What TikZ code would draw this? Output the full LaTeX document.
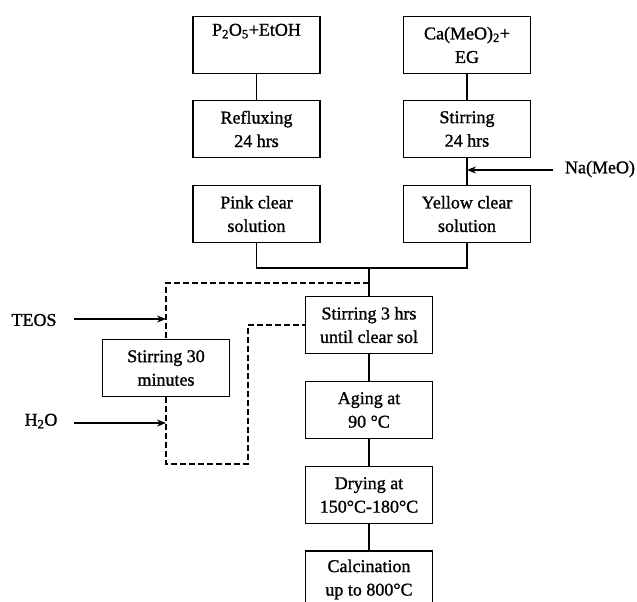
\documentclass[tikz,border=0pt]{standalone}
\usepackage{fontspec}
\setmainfont{Liberation Serif}[RawFeature={embolden=1.2}]
\usetikzlibrary{arrows.meta}
\begin{document}
\begin{tikzpicture}[x=1pt,y=-1pt,
 box/.style={draw, line width=1.8pt, minimum width=127pt, minimum height=57pt, align=center, font=\fontsize{18}{23.5}\selectfont, inner sep=0pt},
 conn/.style={line width=1.6pt},
 dsh/.style={line width=1.6pt, dash pattern=on 6pt off 3pt},
 arr/.style={line width=1.6pt, -{Stealth[length=9pt,width=7pt]}},
 lbl/.style={font=\fontsize{18}{22}\selectfont, inner sep=0pt}]
\useasboundingbox (0,0) rectangle (637,602);
\clip (0,0) rectangle (637,602);
% left column
\node[box] (p) at (256.5,45) {P\textsubscript{2}O\textsubscript{5}+EtOH\\\strut};
\node[box] (ref) at (256.5,129) {Refluxing\\24 hrs};
\node[box] (pink) at (256.5,214) {Pink clear\\solution};
% right column
\node[box] (ca) at (467,45) {Ca(MeO)\textsubscript{2}+\\EG};
\node[box] (st24) at (467,129) {Stirring\\24 hrs};
\node[box] (yel) at (467,214) {Yellow clear\\solution};
% main column
\node[box] (s3) at (369,325) {Stirring 3 hrs\\until clear sol};
\node[box] (age) at (369,410) {Aging at\\90 °C};
\node[box] (dry) at (369,495) {Drying at\\150°C-180°C};
\node[box] (calc) at (369,579.5) {Calcination\\up to 800°C};
% side box
\node[box] (s30) at (166,368) {Stirring 30\\minutes};
% labels
\node[lbl] (na) at (600,169) {Na(MeO)};
\node[lbl] (teos) at (34,320) {TEOS};
\node[lbl] (h2o) at (41,421) {H\textsubscript{2}O};
% connectors
\draw[conn] (p.south) -- (ref.north);
\draw[conn] (ca.south) -- (st24.north);
\draw[conn] (st24.south) -- (yel.north);
\coordinate (jl) at (256.5,268);
\coordinate (jr) at (467,268);
\coordinate (jm) at (369,268);
\draw[conn] (pink.south) -- (jl) -- (jr) -- (yel.south);
\draw[conn] (jm) -- (s3.north);
\draw[conn] (s3.south) -- (age.north);
\draw[conn] (age.south) -- (dry.north);
\draw[conn] (dry.south) -- (calc.north);
% Na(MeO) arrow
\coordinate (naS) at (553,170);
\coordinate (naE) at (467,170);
\draw[arr] (naS) -- (naE);
% dashed loop
\coordinate (d0) at (369,283);
\coordinate (d1) at (166,283);
\coordinate (d2) at (166,464);
\coordinate (d3) at (248,464);
\coordinate (d4) at (248,325);
\draw[dsh] (d0) -- (d1) -- (s30.north);
\draw[dsh] (s30.south) -- (d2) -- (d3) -- (d4) -- (s3.west);
% TEOS and H2O arrows
\coordinate (tS) at (74,319);
\coordinate (tE) at (166,319);
\coordinate (hS) at (74,423);
\coordinate (hE) at (166,423);
\draw[arr] (tS) -- (tE);
\draw[arr] (hS) -- (hE);
\end{tikzpicture}
\end{document}
